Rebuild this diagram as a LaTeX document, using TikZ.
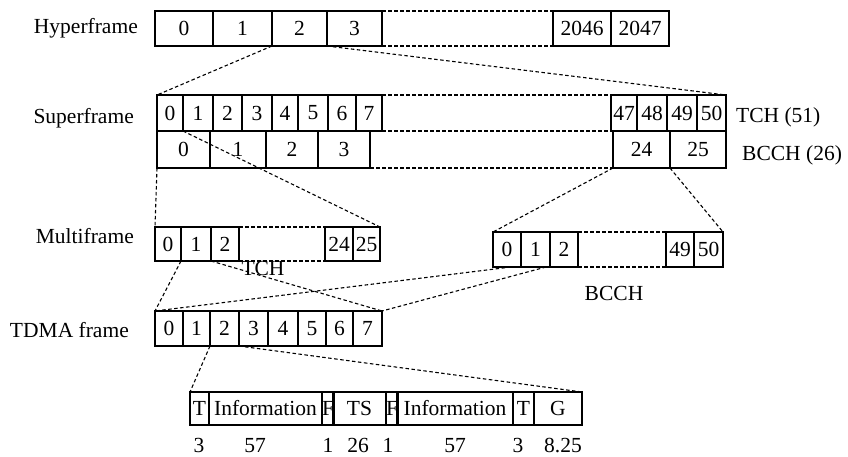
\documentclass[tikz,border=0pt]{standalone}
\usepackage{fontspec}
\setmainfont{Liberation Serif}
\newcommand\cellrow[4]{%
  \foreach \a/\b/\t [count=\i] in {#4} {%
    \node[cell, minimum width={(\b-\a)*1pt}, minimum height=#3 pt] (#1\i) at (\a,#2) {\t};}}
\begin{document}
\begin{tikzpicture}[x=1pt,y=-1pt, font=\fontsize{21.5}{24}\selectfont,
  cell/.style={draw, line width=1.6pt, inner sep=0pt, anchor=north west, outer sep=0pt},
  link/.style={dash pattern=on 3.5pt off 2.5pt, line width=1.1pt},
  lbl/.style={anchor=base east, inner sep=0pt},
  lblw/.style={anchor=base west, inner sep=0pt},
  lblc/.style={anchor=base, inner sep=0pt}]
\useasboundingbox (0,0) rectangle (848,456);
% rows
\cellrow{h}{11}{35}{155/213/0,213/272/1,272/327/2,327/382/3,553/611/2046,611/669/2047}
\cellrow{s}{95}{36}{157/183/0,183/213/1,213/242/2,242/272/3,272/298/4,298/328/5,328/356/6,356/382/7,611/637/47,637/667/48,667/697/49,697/726/50}
\cellrow{r}{131}{37}{157/210/0,210/266/1,266/318/2,318/370/3,613/670/24,670/726/25}
\cellrow{m}{227}{34}{155/181/0,181/211/1,211/239/2,325/353/24,353/380/25}
\cellrow{b}{232}{35}{493/521/0,521/550/1,550/578/2,666/694/49,694/723/50}
\cellrow{t}{311}{35}{155/183/0,183/210/1,210/239/2,239/268/3,268/298/4,298/326/5,326/353/6,353/382/7}
\cellrow{u}{392}{33}{190/209/T,209/322/Information,322/333/F,333/386/TS,386/397/F,397/513/Information,513/534/T,534/582/G}
% labels
\node[lbl] (lh) at (138,33) {Hyperframe};
\node[lbl] (ls) at (134,123) {Superframe};
\node[lbl] (lm) at (134,243) {Multiframe};
\node[lbl] (lt) at (129,337) {TDMA frame};
\node[lblw] (ltch) at (736,122) {TCH (51)};
\node[lblw] (lbcch) at (742,160) {BCCH (26)};
\node[lblc] (tchl) at (263,275) {TCH};
\node[lblc] (bcchl) at (614,300) {BCCH};
\node[lblc] (n1) at (199,452) {3};
\node[lblc] (n2) at (255,452) {57};
\node[lblc] (n3) at (328,452) {1};
\node[lblc] (n4) at (358,452) {26};
\node[lblc] (n5) at (388,452) {1};
\node[lblc] (n6) at (455,452) {57};
\node[lblc] (n7) at (518,452) {3};
\node[lblc] (n8) at (563,452) {8.25};
% connectors
\draw[link] (h4.north east) -- (h5.north west);
\draw[link] (h4.south east) -- (h5.south west);
\draw[link] (h3.south west) -- (s1.north west);
\draw[link] (h4.south west) -- (s12.north east);
\draw[link] (s8.north east) -- (s9.north west);
\draw[link] (s8.south east) -- (s9.south west);
\draw[link] (r4.south east) -- (r5.south west);
\draw[link] (r1.south west) -- (m1.north west);
\draw[link] (s2.south west) -- (m5.north east);
\draw[link] (r5.south west) -- (b1.north west);
\draw[link] (r6.south west) -- (b5.north east);
\draw[link] (m3.north east) -- (m4.north west);
\draw[link] (m3.south east) -- (m4.south west);
\draw[link] (b3.north east) -- (b4.north west);
\draw[link] (b3.south east) -- (b4.south west);
\draw[link] (m2.south west) -- (t1.north west);
\draw[link] (m2.south east) -- (t8.north east);
\coordinate (bA) at (511,267);
\coordinate (bB) at (546,267);
\draw[link] (bA) -- (t1.north west);
\draw[link] (bB) -- (t8.north east);
\draw[link] (t3.south west) -- (u1.north west);
\draw[link] (t3.south east) -- (u8.north east);
\end{tikzpicture}
\end{document}
